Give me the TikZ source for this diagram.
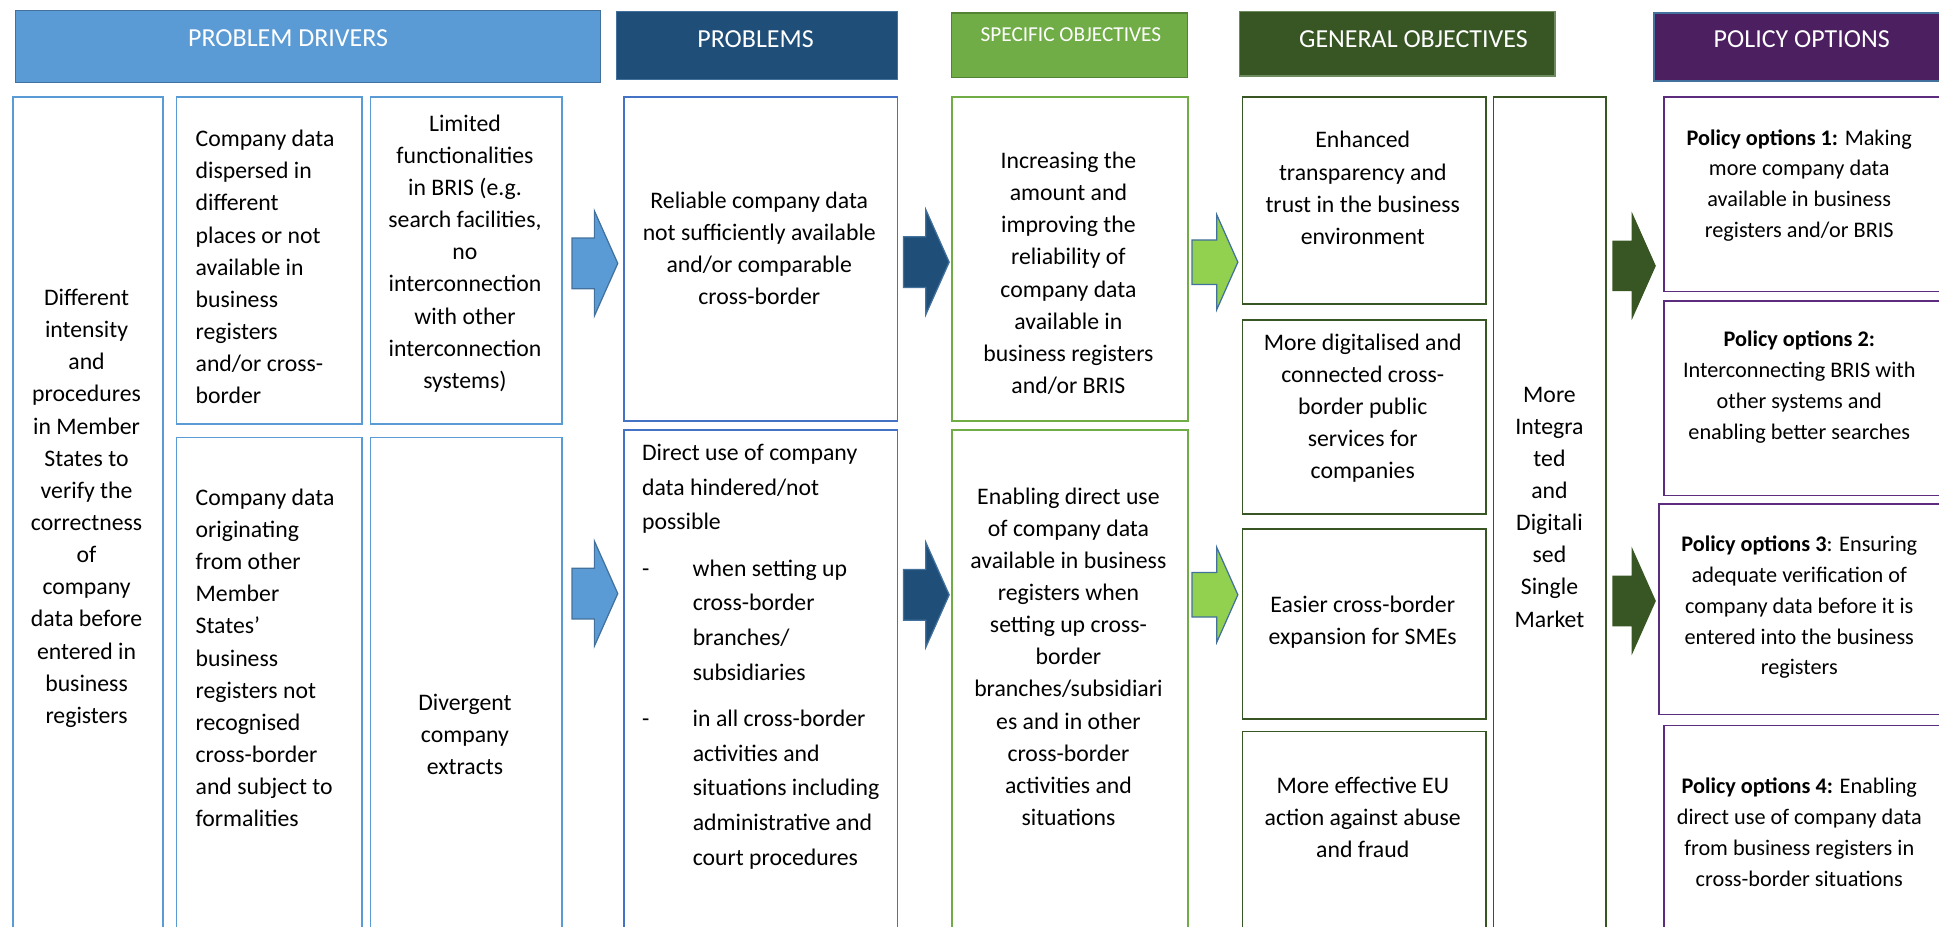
\documentclass[tikz,border=0pt]{standalone}
\usepackage{fontspec}
\setmainfont{Carlito}
\usetikzlibrary{positioning,shapes.arrows}

\definecolor{driverblue}{HTML}{5B9BD5}
\definecolor{problemblue}{HTML}{1F4E79}
\definecolor{problemline}{HTML}{4472C4}
\definecolor{specgreen}{HTML}{70AD47}
\definecolor{specline}{HTML}{548235}
\definecolor{genegreen}{HTML}{375623}
\definecolor{geneline}{HTML}{6E8B5F}
\definecolor{optionpurple}{HTML}{4B1F60}
\definecolor{optionline}{HTML}{5C2D7E}
\definecolor{headline}{HTML}{41719C}
\definecolor{arrowgreen}{HTML}{92D050}

\begin{document}
\begin{tikzpicture}[x=1pt, y=-1pt,
    head/.style={draw=headline, line width=1pt, anchor=north west, inner sep=0pt},
    headtext/.style={text=white, inner sep=0pt, font=\fontsize{21}{25}\selectfont},
    cell/.style={draw, line width=1.3pt, anchor=north west, inner sep=0pt},
    celltext/.style={align=center, inner sep=0pt, font=\fontsize{19.2}{26}\selectfont},
    optiontext/.style={align=center, inner sep=0pt, font=\fontsize{18}{25}\selectfont},
    flow/.style={single arrow, draw=headline, line width=1pt,
        inner xsep=0pt, inner ysep=20pt, minimum height=37pt,
        single arrow head extend=22pt, single arrow tip angle=132}
]
    \useasboundingbox (0,0) rectangle (1568,749);

    % Column headers
    \node[head, fill=driverblue, minimum width=473pt, minimum height=58pt] (driverhead) at (12,8) {};
    \node[head, fill=problemblue, minimum width=227pt, minimum height=55pt] (problemhead) at (498,9) {};
    \node[head, draw=specline, fill=specgreen, minimum width=191pt, minimum height=52pt] (spechead) at (769,10) {};
    \node[head, draw=geneline, fill=genegreen, minimum width=255pt, minimum height=52pt] (genehead) at (1002,9) {};
    \node[head, fill=optionpurple, minimum width=240pt, minimum height=55pt] (optionhead) at (1337,10) {};

    \node[headtext] (driverlabel) at (233,31) {PROBLEM DRIVERS};
    \node[headtext] (problemlabel) at (611,32) {PROBLEMS};
    \node[headtext, font=\fontsize{17.2}{20}\selectfont] (speclabel) at (866,28) {SPECIFIC OBJECTIVES};
    \node[headtext] (genelabel) at (1143,32) {GENERAL OBJECTIVES};
    \node[headtext] (optionlabel) at (1457,32) {POLICY OPTIONS};

    % Problem drivers
    \node[cell, draw=driverblue, minimum width=121pt, minimum height=712pt] (verifybox) at (10,78) {};
    \node[cell, draw=driverblue, minimum width=150pt, minimum height=264pt] (dispersedbox) at (142,78) {};
    \node[cell, draw=driverblue, minimum width=155pt, minimum height=264pt] (limitedbox) at (299,78) {};
    \node[cell, draw=driverblue, minimum width=150pt, minimum height=437pt] (originbox) at (142,353) {};
    \node[cell, draw=driverblue, minimum width=155pt, minimum height=437pt] (extractbox) at (299,353) {};

    \node[celltext] (verify) at (70,411) {Different\\intensity\\and\\procedures\\in Member\\States to\\verify the\\correctness\\of\\company\\data before\\entered in\\business\\registers};
    \node[celltext, align=left, anchor=west] (dispersed) at (158,216) {Company data\\dispersed in\\different\\places or not\\available in\\business\\registers\\and/or cross-\\border};
    \node[celltext] (limited) at (376,205) {Limited\\functionalities\\in BRIS (e.g.\\search facilities,\\no\\interconnection\\with other\\interconnection\\systems)};
    \node[celltext, align=left, anchor=west] (origin) at (158,532) {Company data\\originating\\from other\\Member\\States’\\business\\registers not\\recognised\\cross-border\\and subject to\\formalities};
    \node[celltext] (extract) at (376,594) {Divergent\\company\\extracts};

    % Problems
    \node[cell, draw=problemline, minimum width=221pt, minimum height=262pt] (reliablebox) at (504,78) {};
    \node[cell, draw=problemline, minimum width=221pt, minimum height=443pt] (directbox) at (504,347) {};

    \node[celltext] (reliable) at (614,201) {Reliable company data\\not sufficiently available\\and/or comparable\\cross-border};
    \node[celltext, align=left, anchor=west, font=\fontsize{19.2}{28}\selectfont] (direct) at (519,531) {Direct use of company\\data hindered/not\\possible\\[9.5pt]
        \makebox[41pt][l]{-}when setting up\\\hspace*{41pt}cross-border\\\hspace*{41pt}branches/\\\hspace*{41pt}subsidiaries\\[9.5pt]
        \makebox[41pt][l]{-}in all cross-border\\\hspace*{41pt}activities and\\\hspace*{41pt}situations including\\\hspace*{41pt}administrative and\\\hspace*{41pt}court procedures};

    % Specific objectives
    \node[cell, draw=specgreen, minimum width=191pt, minimum height=262pt] (increasebox) at (769,78) {};
    \node[cell, draw=specgreen, minimum width=191pt, minimum height=443pt] (enablebox) at (769,347) {};

    \node[celltext] (increase) at (864,221) {Increasing the\\amount and\\improving the\\reliability of\\company data\\available in\\business registers\\and/or BRIS};
    \node[celltext] (enable) at (864,531) {Enabling direct use\\of company data\\available in business\\registers when\\setting up cross-\\border\\branches/subsidiari\\es and in other\\cross-border\\activities and\\situations};

    % General objectives
    \node[cell, draw=genegreen, minimum width=197pt, minimum height=167pt] (trustbox) at (1004,78) {};
    \node[cell, draw=genegreen, minimum width=197pt, minimum height=157pt] (digitalbox) at (1004,258) {};
    \node[cell, draw=genegreen, minimum width=197pt, minimum height=154pt] (smebox) at (1004,427) {};
    \node[cell, draw=genegreen, minimum width=197pt, minimum height=199pt] (fraudbox) at (1004,591) {};
    \node[cell, draw=genegreen, minimum width=91pt, minimum height=712pt] (marketbox) at (1207,78) {};

    \node[celltext] (trust) at (1102,152) {Enhanced\\transparency and\\trust in the business\\environment};
    \node[celltext] (digital) at (1102,330) {More digitalised and\\connected cross-\\border public\\services for\\companies};
    \node[celltext] (sme) at (1102,503) {Easier cross-border\\expansion for SMEs};
    \node[celltext] (fraud) at (1102,661) {More effective EU\\action against abuse\\and fraud};
    \node[celltext] (market) at (1253,410) {More\\Integra\\ted\\and\\Digitali\\sed\\Single\\Market};

    % Policy options
    \node[cell, draw=optionline, minimum width=235pt, minimum height=157pt] (option1box) at (1345,78) {};
    \node[cell, draw=optionline, minimum width=235pt, minimum height=157pt] (option2box) at (1345,243) {};
    \node[cell, draw=optionline, minimum width=239pt, minimum height=170pt] (option3box) at (1341,407) {};
    \node[cell, draw=optionline, minimum width=235pt, minimum height=204pt] (option4box) at (1345,586) {};

    \node[optiontext] (option1) at (1455,150) {\textbf{Policy options 1:} Making\\more company data\\available in business\\registers and/or BRIS};
    \node[optiontext] (option2) at (1455,313) {\textbf{Policy options 2:}\\Interconnecting BRIS with\\other systems and\\enabling better searches};
    \node[optiontext] (option3) at (1455,491) {\textbf{Policy options 3}: Ensuring\\adequate verification of\\company data before it is\\entered into the business\\registers};
    \node[optiontext] (option4) at (1455,673) {\textbf{Policy options 4:} Enabling\\direct use of company data\\from business registers in\\cross-border situations};

    % Block arrows between the columns
    \node[flow, fill=driverblue] (drivertoproblem1) at (476.5,213) {};
    \node[flow, fill=driverblue] (drivertoproblem2) at (476.5,480) {};
    \node[flow, fill=problemblue] (problemtospec1) at (744.5,212) {};
    \node[flow, fill=problemblue] (problemtospec2) at (744.5,481) {};
    \node[flow, fill=arrowgreen, inner ysep=17.5pt, single arrow head extend=20.5pt] (spectogene1) at (978.5,212) {};
    \node[flow, fill=arrowgreen, inner ysep=17.5pt, single arrow head extend=20.5pt] (spectogene2) at (978.5,481) {};
    \node[flow, draw=genegreen, fill=genegreen, inner ysep=19.5pt, single arrow head extend=21.5pt, minimum height=34pt] (genetooption1) at (1317,215) {};
    \node[flow, draw=genegreen, fill=genegreen, inner ysep=19.5pt, single arrow head extend=21.5pt, minimum height=34pt] (genetooption2) at (1317,486) {};
\end{tikzpicture}
\end{document}
